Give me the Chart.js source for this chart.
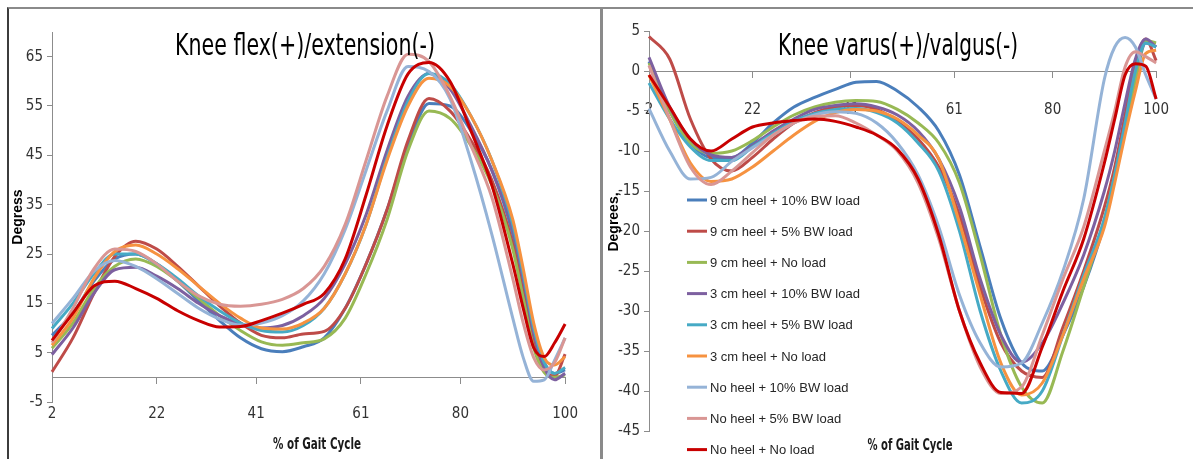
<!DOCTYPE html>
<html>
<head>
<meta charset="utf-8">
<script src="https://cdn.jsdelivr.net/npm/chart.js@4.4.0/dist/chart.umd.min.js"></script>
<style>
  body { margin: 0; background: #fff; }
  #wrap { position: relative; width: 1193px; height: 459px; overflow: hidden; background: #fff; }
  canvas { position: absolute; top: 0; }
  #flexChart { left: 0; }
  #varusChart { left: 603px; }
  .frame { position: absolute; box-sizing: border-box; pointer-events: none; }
  #frameLeft { left: 7px; top: 7px; width: 596px; height: 470px; border-top: 2px solid #8a8a8a; border-left: 2px solid #3c3c3c; border-right: 3px solid #8a8a8a; }
  #frameRight { left: 603px; top: 7px; width: 600px; height: 470px; border-top: 2px solid #8a8a8a; }
</style>
</head>
<body>
<div id="wrap">
  <canvas id="flexChart" width="600" height="459"></canvas>
  <canvas id="varusChart" width="590" height="459"></canvas>
  <div class="frame" id="frameLeft"></div>
  <div class="frame" id="frameRight"></div>
</div>
<script>
//--------------------------------------------Data
const gaitPct = [2, 6, 10, 14, 18, 22, 26, 30, 34, 38, 42, 46, 50, 54, 58, 62, 66, 70, 74, 78, 82, 86, 90, 92, 94, 96, 98, 100];
const gaitTicks = [2, 22, 41, 61, 80, 100];
const flexTicks = [-5, 5, 15, 25, 35, 45, 55, 65];
const varusTicks = [5, 0, -5, -10, -15, -20, -25, -30, -35, -40, -45];

const seriesNames = [
    '9 cm heel + 10% BW load',
    '9 cm heel + 5% BW load',
    '9 cm heel + No load',
    '3 cm heel + 10% BW load',
    '3 cm heel + 5% BW load',
    '3 cm heel + No load',
    'No heel + 10% BW load',
    'No heel + 5% BW load',
    'No heel + No load'
];
const seriesColors = ['#4a7ebb', '#be4b48', '#98b954', '#7d60a0', '#46aac5', '#f69240', '#95b3d7', '#d99694', '#c80000'];

// knee flexion(+)/extension(-)
const flex9cm10 = [8.5, 13, 19.5, 24, 25, 23, 19.5, 15.5, 11.5, 8, 5.8, 5.2, 6.2, 8, 14, 23, 34, 47, 55.5, 55, 50, 42, 29, 19, 9, 3, 0.8, 1.5];
const flex9cm5 = [1.1, 8, 17, 24.5, 27.6, 26, 22.5, 18.5, 14.5, 11, 8.5, 8, 8.8, 9.3, 14, 23, 34, 48, 56.5, 54, 48, 40, 27, 17, 7, 1.5, 0.3, 4.7];
const flex9cm0 = [5.9, 11, 18, 22.5, 24, 22.5, 19.5, 16, 12.5, 9.5, 7.2, 6.5, 7, 7.8, 12, 21, 32, 46, 54, 52.5, 47, 39, 26, 16, 6, 1, 0, 0.5];
const flex3cm10 = [4.6, 10, 17, 21.8, 22.3, 20.5, 18, 15, 12.5, 10.8, 10, 10.5, 12.5, 16, 23, 33, 46, 57, 61.6, 58.5, 51, 42, 30, 20, 9, 2, -0.5, 0.8];
const flex3cm5 = [9.9, 15, 21, 25, 25, 23, 20, 16.5, 13.5, 11, 9.5, 9.2, 10.5, 14, 21, 31, 44.5, 56, 61.6, 59.5, 53, 44, 31, 21, 10, 3, 0.8, 2];
const flex3cm0 = [6.5, 12, 20, 25.5, 26.8, 25, 22, 18.5, 15, 12, 10, 9.8, 11, 14, 21, 31, 44, 55, 60.6, 59, 53, 44, 32, 22, 11, 4, 2.5, 4.2];
const flexNo10 = [10.9, 16, 21.5, 23.7, 22.5, 20, 17, 14, 11.8, 10.6, 11, 12.5, 15.5, 21, 30, 42, 54, 63, 62, 56.5, 44, 29, 12, 4, -0.8, -0.5, 3.5, 8];
const flexNo5 = [7, 14, 22, 26, 25.5, 23, 19.5, 16.5, 14.8, 14.4, 14.8, 15.8, 18, 22.5, 31, 44, 57, 65.5, 64, 57, 47, 36.5, 20, 11, 4, 1.5, 3, 8];
const flexNo0 = [7.5, 13, 18.5, 19.5, 18, 16, 13.5, 11.5, 10.2, 10.3, 11.5, 13, 14.8, 17, 24, 37, 51, 61.5, 63.8, 60, 50, 39, 23, 14, 6, 4.2, 7, 10.8];

// knee varus(+)/valgus(-)
const varus9cm10 = [1.2, -5, -9, -10.8, -10.8, -9, -6.5, -4.5, -3.3, -2.3, -1.4, -1.3, -2.5, -4.5, -7.5, -13, -22, -31, -36.5, -37.5, -33, -27, -19, -13, -7, -1, 3.5, 3];
const varus9cm5 = [4.3, 1.5, -6, -11, -12.5, -10.8, -8.5, -6.5, -5.2, -4.5, -4.3, -4.8, -6.3, -8.5, -12, -18, -27, -34, -37.5, -38.3, -32, -25, -17, -12, -5.5, 1, 4, 1.3];
const varus9cm0 = [1, -5, -9, -10.3, -10, -8.7, -7, -5.5, -4.5, -3.9, -3.7, -3.8, -4.8, -6.5, -9, -14, -23, -33, -39.5, -41.5, -35, -27, -18.5, -13, -7, -1, 3.8, 3.5];
const varus3cm10 = [1.7, -4.5, -8.5, -10.5, -10.8, -9.3, -7.5, -6, -4.8, -4.3, -4.1, -4.5, -5.5, -7.5, -11, -17, -26, -33, -36.4, -34, -29, -23, -15, -10, -4, 1.5, 4, 3];
const varus3cm5 = [-1.5, -6, -9.5, -11.2, -11.2, -9.5, -7.8, -6.3, -5.3, -4.8, -4.7, -5.2, -6.5, -9, -12.5, -20, -30, -37.5, -41.5, -40, -33, -25.5, -18.5, -13, -6.5, 0, 3.5, 3];
const varus3cm0 = [-0.5, -6, -11.5, -13.8, -13.5, -12, -10, -8, -6.3, -5.2, -4.8, -5, -6, -8, -11, -19, -28, -36.5, -40.5, -39, -33, -26, -19.5, -14, -8, -2.5, 2.2, 2.6];
const varusNo10 = [-4.7, -10, -13.5, -13.3, -11.3, -9.6, -8, -6.5, -5.5, -5.1, -5.3, -6.5, -9, -13, -19.5, -28, -34, -37, -36.5, -31.5, -25, -16, -1, 3, 4.2, 3, -0.5, -3.5];
const varusNo5 = [0.7, -6, -12, -14.2, -12.5, -10.2, -8, -6.5, -5.7, -5.6, -6.5, -8, -10, -14, -21, -30, -37, -40.3, -39.5, -33, -26, -19.5, -10, -5, 0.5, 2.4, 1.8, 1];
const varusNo0 = [-0.5, -4.5, -8.5, -10, -8.5, -7, -6.5, -6.2, -6, -6.3, -7, -8, -9.8, -13.5, -20.5, -30, -36.5, -40.2, -40.3, -34.5, -27.5, -21, -11.5, -6, -0.5, 0.9, 0.6, -3.5];

const flexSeries = [flex9cm10, flex9cm5, flex9cm0, flex3cm10, flex3cm5, flex3cm0, flexNo10, flexNo5, flexNo0];
const varusSeries = [varus9cm10, varus9cm5, varus9cm0, varus3cm10, varus3cm5, varus3cm0, varusNo10, varusNo5, varusNo0];

//--------------------------------------------Styles
const NARROW = '"Liberation Sans Narrow", "DejaVu Sans Condensed", "Arial Narrow", sans-serif';
const SANS = '"Liberation Sans", Arial, sans-serif';
const axisGrey = '#8c8c8c';
const tickColor = '#333333';

//--------------------------------------------Functions
function makeDatasets(series) {
    return series.map((values, i) => ({
        label: seriesNames[i],
        data: values.map((v, j) => ({ x: gaitPct[j], y: v })),
        borderColor: seriesColors[i],
        backgroundColor: seriesColors[i],
        borderWidth: 3,
        pointRadius: 0,
        fill: false,
        cubicInterpolationMode: 'monotone',
        clip: 6,
        order: series.length - i
    }));
}

function xAxis(labelPadding) {
    return {
        type: 'linear',
        min: 2,
        max: 100,
        position: { y: 0 },
        afterBuildTicks: (s) => { s.ticks = gaitTicks.map(v => ({ value: v })); },
        grid: { drawOnChartArea: false, drawTicks: true, tickLength: 6, color: axisGrey },
        border: { color: axisGrey, width: 1 },
        ticks: { padding: labelPadding, color: tickColor, font: { family: NARROW, size: 15 }, maxRotation: 0, autoSkip: false }
    };
}

function yAxis(min, max, tickValues, width) {
    return {
        type: 'linear',
        min: min,
        max: max,
        position: 'left',
        afterBuildTicks: (s) => { s.ticks = tickValues.map(v => ({ value: v })); },
        afterFit: (s) => { s.width = width; },
        grid: { drawOnChartArea: false, drawTicks: true, tickLength: 5, color: axisGrey },
        border: { color: axisGrey, width: 1 },
        ticks: { padding: 4, color: tickColor, font: { family: NARROW, size: 15 } }
    };
}

const textLayer = {
    id: 'textLayer',
    afterDraw(chart, args, opts) {
        const ctx = chart.ctx;
        (opts.items || []).forEach(it => {
            ctx.save();
            ctx.font = it.font;
            ctx.fillStyle = it.color || '#000';
            ctx.textAlign = 'center';
            ctx.textBaseline = 'middle';
            ctx.translate(it.x, it.y);
            if (it.rotate) ctx.rotate(it.rotate);
            ctx.fillText(it.text, 0, 0, it.maxWidth);
            ctx.restore();
        });
        if (opts.legend) {
            const lg = opts.legend;
            chart.data.datasets.forEach((ds, i) => {
                const y = lg.y + i * lg.gap;
                ctx.save();
                ctx.strokeStyle = ds.borderColor;
                ctx.lineWidth = 3;
                ctx.beginPath();
                ctx.moveTo(lg.x, y);
                ctx.lineTo(lg.x + 20, y);
                ctx.stroke();
                ctx.font = lg.font;
                ctx.fillStyle = '#262626';
                ctx.textAlign = 'left';
                ctx.textBaseline = 'middle';
                ctx.fillText(ds.label, lg.x + 23, y + 1);
                ctx.restore();
            });
        }
    }
};

//--------------------------------------------Charts
new Chart(document.getElementById('flexChart'), {
    type: 'line',
    data: { datasets: makeDatasets(flexSeries) },
    plugins: [textLayer],
    options: {
        responsive: false,
        animation: false,
        layout: { padding: { left: 8, right: 25, top: 32, bottom: 57 } },
        plugins: {
            legend: { display: false },
            tooltip: { enabled: false },
            textLayer: {
                items: [
                    { text: 'Knee flex(+)/extension(-)', x: 305, y: 47, font: '30px ' + NARROW, maxWidth: 260 },
                    { text: 'Degress', x: 18, y: 217, font: 'bold 14px ' + SANS, maxWidth: 68, rotate: -Math.PI / 2 },
                    { text: '% of Gait Cycle', x: 317, y: 445, font: 'bold 16px ' + NARROW, maxWidth: 88, color: '#1a1a1a' }
                ]
            }
        },
        scales: {
            x: xAxis(22),
            y: yAxis(-5, 70, flexTicks, 44)
        }
    }
});

new Chart(document.getElementById('varusChart'), {
    type: 'line',
    data: { datasets: makeDatasets(varusSeries) },
    plugins: [textLayer],
    options: {
        responsive: false,
        animation: false,
        layout: { padding: { left: 6, right: 30, top: 31, bottom: 28 } },
        plugins: {
            legend: { display: false },
            tooltip: { enabled: false },
            textLayer: {
                items: [
                    { text: 'Knee varus(+)/valgus(-)', x: 295, y: 47, font: '30px ' + NARROW, maxWidth: 240 },
                    { text: 'Degrees,', x: 11, y: 222, font: 'bold 14px ' + SANS, maxWidth: 70, rotate: -Math.PI / 2 },
                    { text: '% of Gait Cycle', x: 307, y: 446, font: 'bold 16px ' + NARROW, maxWidth: 85, color: '#1a1a1a' }
                ],
                legend: { x: 84, y: 200, gap: 31.2, font: '13px ' + SANS }
            }
        },
        scales: {
            x: xAxis(24),
            y: yAxis(-45, 5, varusTicks, 40)
        }
    }
});
</script>
</body>
</html>
